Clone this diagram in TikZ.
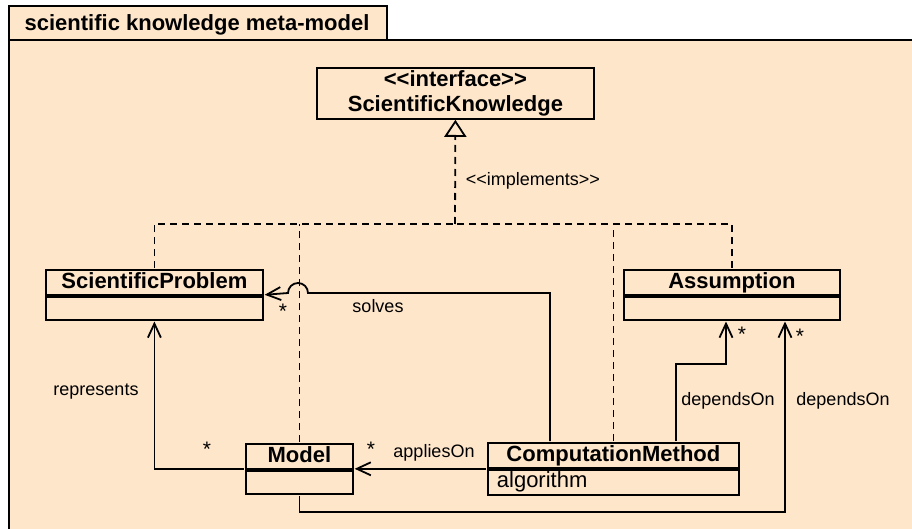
\documentclass[tikz,border=0pt]{standalone}
\usepackage{fontspec}
\setmainfont{Liberation Sans}
\usetikzlibrary{arrows.meta,fit}
\definecolor{paper}{RGB}{254,230,203}
% guillemet-free stereotype brackets
\newcommand\stereo[1]{<\kern0pt<#1>\kern0pt>}
\begin{document}
\begin{tikzpicture}[x=1pt,y=-1pt,
  line width=1.8pt,
  bigfont/.style={font=\fontsize{22}{25}\selectfont},
  classname/.style={draw, fill=paper, inner sep=0pt, anchor=north west,
    font=\fontsize{22}{25}\selectfont\bfseries, text height=16pt, text depth=3pt},
  classattr/.style={draw, fill=paper, inner sep=0pt, anchor=north},
  whole/.style={fit=#1, inner sep=0pt, draw=none},
  lbl/.style={font=\fontsize{18}{21}\selectfont, inner sep=0pt},
  star/.style={font=\fontsize{21}{21}\selectfont, inner sep=0pt},
  assoc/.style={-{Straight Barb[length=14pt,width=13pt]}},
  impl/.style={dash pattern=on 7pt off 5pt},
]
\useasboundingbox (0,0) rectangle (912,529);
\clip (0,0) rectangle (912,529);

% package frame with its name tab
\fill[paper] (9,6) rectangle (387,40);
\fill[paper] (9,40) rectangle (940,560);
\draw[line width=2.2pt] (9,560) -- (9,6) -- (387,6) -- (387,40);
\draw[line width=2.2pt] (9,40) -- (940,40);
\node[font=\fontsize{22}{25}\selectfont\bfseries, inner sep=0pt] (title) at (197,24.5)
  {scientific knowledge meta-model};

% interface
\node[draw, fill=paper, inner sep=0pt, anchor=north west, minimum width=277,
  minimum height=51, align=center, font=\fontsize{22}{25}\selectfont\bfseries]
  (iface) at (316,67) {\stereo{interface}\\ScientificKnowledge};

% classes
\node[classname, minimum width=217, minimum height=25] (sp) at (45,269) {ScientificProblem};
\node[classattr, minimum width=217, minimum height=23] (spa) at (sp.south) {};
\node[whole=(sp)(spa)] (SP) {};

\node[classname, minimum width=216, minimum height=25] (as) at (623,269) {Assumption};
\node[classattr, minimum width=216, minimum height=23] (asa) at (as.south) {};
\node[whole=(as)(asa)] (AS) {};

\node[classname, minimum width=107, minimum height=25] (mo) at (245,443) {Model};
\node[classattr, minimum width=107, minimum height=23] (moa) at (mo.south) {};
\node[whole=(mo)(moa)] (MO) {};

\node[classname, minimum width=251, minimum height=25] (cm) at (487,442) {ComputationMethod};
\node[classattr, minimum width=251, minimum height=25, text width=233pt, align=left,
  inner xsep=9pt, text height=16pt, text depth=5pt, bigfont] (cma) at (cm.south) {algorithm};
\node[whole=(cm)(cma)] (CM) {};

% realisations of the interface
\coordinate (hub) at (455,224);
\draw[impl] (SP.north) |- (hub);
\draw[impl] (AS.north) |- (hub);
\draw[impl] (MO.north) -- (MO.north |- hub);
\draw[impl] (CM.north) -- (CM.north |- hub);
\draw[impl, -{Triangle[open, length=17pt, width=22pt, fill=paper]}] (hub) -- (iface.south);
\node[lbl, anchor=west] (implL) at (465,181) {\stereo{implements}};

% associations
\coordinate (solvesUp) at (550,293);
\coordinate (hopR) at (308,293);
\draw[assoc] (CM.north -| solvesUp) -- (solvesUp) -- (hopR)
  arc[start angle=0, end angle=-180, radius=10] -- (SP.east);
\node[lbl] (solvesL) at (378,306) {solves};
\node[star] (spStar) at (283,311) {*};

\draw[assoc] (MO.west) -| (SP.south);
\node[lbl] (repL) at (96,392) {represents};
\node[star] (repStar) at (207,449) {*};

\draw[assoc] (CM.west) -- (MO.east);
\node[lbl] (appL) at (434,453) {appliesOn};
\node[star] (appStar) at (371,449) {*};

\coordinate (depBend) at (726,364);
\draw[assoc] (CM.north -| 676,0) |- (depBend) -- (AS.south -| depBend);
\node[lbl] (dep1L) at (728,401) {dependsOn};
\node[star] (dep1Star) at (742,334) {*};

\coordinate (depLow) at (785,512);
\draw[assoc] (MO.south) |- (depLow) -- (AS.south -| depLow);
\node[lbl] (dep2L) at (843,401) {dependsOn};
\node[star] (dep2Star) at (800,336) {*};
\end{tikzpicture}
\end{document}
